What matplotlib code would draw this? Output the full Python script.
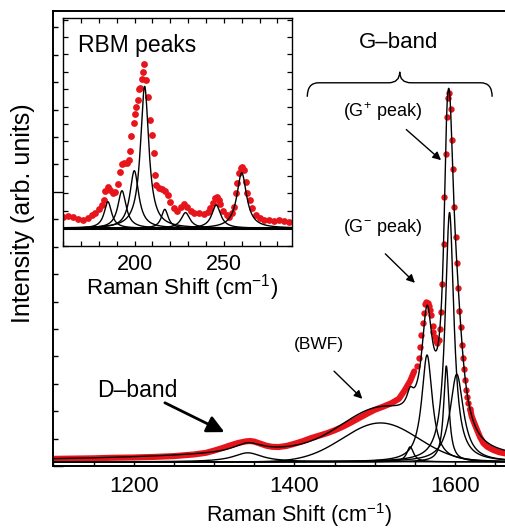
"""
Raman spectrum of SWNT sample with Lorentzian fit components, RBM inset.
"""
# ====================================================== Imports ===================================================== #

import matplotlib
matplotlib.use("Agg")
import matplotlib.pyplot as plt
import numpy as np
from matplotlib.path import Path
from matplotlib.patches import PathPatch
from matplotlib.ticker import MultipleLocator

plt.rcParams['font.family'] = ['Liberation Sans', 'DejaVu Sans']
plt.rcParams['mathtext.default'] = 'regular'

# ===================================================== Variables ==================================================== #

RED = '#e8141b'

# measured spectrum, D / G region (dense part -> drawn as a band)
band_shift = [1100, 1125, 1150, 1175, 1200, 1225, 1250, 1275, 1290, 1300, 1310, 1320, 1330, 1340, 1345, 1350,
              1357, 1365, 1372, 1380, 1390, 1400, 1410, 1420, 1430, 1440, 1450, 1460, 1470, 1480, 1490, 1500,
              1510, 1520, 1530, 1537, 1544, 1549]
band_int = [0.26, 0.27, 0.28, 0.30, 0.31, 0.33, 0.36, 0.42, 0.48, 0.56, 0.65, 0.75, 0.84, 0.90, 0.91, 0.89,
            0.82, 0.74, 0.70, 0.69, 0.73, 0.81, 0.90, 1.01, 1.10, 1.19, 1.30, 1.43, 1.58, 1.74, 1.90, 2.05,
            2.16, 2.28, 2.45, 2.75, 3.10, 3.45]

# measured spectrum, G peaks (single points)
peak_shift = [1552.4, 1554.4, 1555.7, 1557.8, 1559.4, 1560.6, 1562.7, 1564.2, 1565.6, 1567.0, 1568.5, 1570.2,
              1571.8, 1573.0, 1574.3, 1575.8, 1577.6, 1579.3, 1581.0, 1582.2, 1584.2, 1585.5, 1586.7, 1588.4,
              1590.1, 1590.9, 1592.5, 1595.0, 1596.6, 1597.9, 1599.1, 1600.9, 1602.1, 1603.4, 1605.0, 1606.8,
              1608.3, 1609.6, 1611.2, 1612.4, 1613.7, 1615.3, 1616.5, 1618.6]
peak_int = [3.65, 3.93, 4.35, 4.78, 5.21, 5.57, 5.91, 6.00, 5.96, 5.85, 5.70, 5.51,
            5.11, 4.90, 4.72, 4.55, 4.50, 4.60, 5.00, 5.60, 6.64, 8.09, 9.83, 11.39,
            12.74, 13.42, 13.60, 13.03, 11.90, 10.84, 9.45, 8.37, 7.42, 6.49, 5.67, 5.08,
            4.42, 3.93, 3.53, 3.14, 2.77, 2.51, 2.29, 2.07]

# measured spectrum, high-frequency tail (band)
tail_shift = [1618.6, 1620.7, 1624, 1627.3, 1631, 1635.2, 1640, 1647.6, 1655, 1662]
tail_int = [2.07, 1.80, 1.55, 1.31, 1.05, 0.83, 0.70, 0.58, 0.50, 0.46]

# fitted Lorentzian components: D, small, G-, G+ shoulder, G+, G+ high side
comp_center = [1342, 1544, 1565, 1589, 1593, 1602]
comp_hwhm = [22, 5, 8, 4, 6.5, 10]
comp_height = [0.33, 0.55, 3.9, 3.5, 9.1, 3.2]
# BWF component and background
bwf_center = 1507
bwf_sigma = 47
bwf_height = 1.42
bg_center = 1450
bg_hwhm = 200
bg_height = 0.45
base_level = 0.15

# RBM inset
rbm_shift = [160.1, 162.9, 165.7, 168.5, 171.3, 173.6, 176.0, 177.9, 179.8, 181.6, 182.6, 183.5, 184.8, 186.3,
             187.8, 189.1, 190.6, 191.9, 192.9, 194.2, 195.7, 196.6, 197.2, 197.9, 199.4, 200.4, 200.9, 201.7,
             202.2, 203.2, 204.1, 204.5, 205.4, 206.6, 207.5, 208.8, 209.7, 210.7, 211.2, 212.2, 213.5, 215.4,
             217.2, 218.5, 220.0, 221.9, 223.8, 225.7, 227.5, 229.4, 231.3, 233.5, 235.9, 238.8, 241.0, 242.5,
             244.0, 245.3, 246.3, 247.2, 248.1, 249.6, 251.5, 252.8, 254.7, 255.6, 256.6, 257.5, 258.4, 259.4,
             260.3, 261.2, 262.2, 263.1, 264.4, 265.9, 267.8, 270.2, 272.5, 275.3, 278.1, 280.9, 283.7, 286.5]
rbm_int = [0.67, 0.71, 0.63, 0.52, 0.48, 0.57, 0.76, 0.90, 1.09, 1.34, 1.63, 2.16, 2.39, 2.20,
           2.01, 2.10, 2.54, 3.25, 3.69, 3.73, 3.77, 3.92, 4.46, 5.30, 6.06, 6.56, 6.98, 7.36,
           8.03, 8.09, 8.60, 8.99, 9.43, 8.51, 7.55, 6.25, 5.35, 4.30, 3.06, 2.49, 2.29, 2.24,
           2.16, 1.91, 1.53, 1.15, 1.01, 1.20, 1.40, 1.24, 1.01, 0.90, 0.90, 0.82, 0.96, 1.15,
           1.47, 1.72, 1.82, 1.63, 1.40, 1.01, 0.76, 0.67, 0.86, 1.24, 2.05, 2.58, 3.15, 3.44,
           3.54, 3.35, 2.68, 2.05, 1.63, 1.15, 0.76, 0.57, 0.48, 0.48, 0.44, 0.48, 0.44, 0.38]
rbm_center = [185.0, 192.9, 199.8, 205.6, 216.9, 228.5, 245.7, 260.0]
rbm_hwhm = [2.5, 2.8, 3.0, 2.8, 2.3, 3.0, 3.0, 3.3]
rbm_height = [1.53, 2.16, 3.31, 8.16, 1.09, 0.90, 1.34, 3.19]


# ===================================================== Functions ==================================================== #


def lorentz(x, x0, hw, h):
    return h * hw ** 2 / ((x - x0) ** 2 + hw ** 2)


def brace(ax, x0, x1, y_end, y_mid, y_tip, curl):
    xm = 0.5 * (x0 + x1)
    verts = [(x0, y_end), (x0, y_mid), (x0 + curl, y_mid),
             (xm - curl, y_mid),
             (xm, y_mid), (xm, y_tip),
             (xm, y_mid), (xm + curl, y_mid),
             (x1 - curl, y_mid),
             (x1, y_mid), (x1, y_end)]
    codes = [Path.MOVETO, Path.CURVE3, Path.CURVE3,
             Path.LINETO,
             Path.CURVE3, Path.CURVE3,
             Path.CURVE3, Path.CURVE3,
             Path.LINETO,
             Path.CURVE3, Path.CURVE3]
    ax.add_patch(PathPatch(Path(verts, codes), fc='none', ec='k', lw=1.0, clip_on=False))


# ======================================================= Main ======================================================= #


def main():
    fig = plt.figure(figsize=(5.05, 5.30), dpi=100)
    ax = fig.add_axes([0.1056, 0.1208, 0.8944, 0.8585])

    x = np.linspace(1100, 1662, 2000)
    comps = [lorentz(x, c, w, h) for c, w, h in zip(comp_center, comp_hwhm, comp_height)]
    comps.append(bwf_height * np.exp(-(x - bwf_center) ** 2 / (2 * bwf_sigma ** 2)))
    total = base_level + lorentz(x, bg_center, bg_hwhm, bg_height) + np.sum(comps, axis=0)

    ax.plot(band_shift, band_int, color=RED, lw=4.4, solid_capstyle='round', zorder=2)
    ax.plot(tail_shift, tail_int, color=RED, lw=4.4, solid_capstyle='round', zorder=2)
    ax.plot(peak_shift, peak_int, 'o', color=RED, ms=4.6, mec='none', zorder=2)
    for c in comps:
        ax.plot(x, base_level + c, color='k', lw=1.0, zorder=3)
    ax.plot(x, total, color='k', lw=1.0, zorder=4)

    ax.set_xlim(1100, 1662)
    ax.set_ylim(0, 16.6)
    ax.xaxis.set_major_locator(MultipleLocator(200))
    ax.xaxis.set_minor_locator(MultipleLocator(50))
    ax.yaxis.set_major_locator(MultipleLocator(10))
    ax.yaxis.set_minor_locator(MultipleLocator(1))
    ax.set_yticklabels([])
    ax.tick_params(which='both', direction='in', top=False, right=False, width=1.0, labelsize=16, pad=7)
    ax.tick_params(axis='x', which='both', length=3.5)
    ax.tick_params(axis='y', which='major', length=7)
    ax.tick_params(axis='y', which='minor', length=3.5)
    ax.spines['right'].set_visible(False)
    for s in ('left', 'top', 'bottom'):
        ax.spines[s].set_linewidth(1.4)

    fig.text(299 / 505, 1 - 515 / 530, 'Raman Shift (cm$^{-1}$)', ha='center', va='center', fontsize=15.5)
    fig.text(23 / 505, 1 - 213 / 530, 'Intensity (arb. units)', ha='center', va='center', rotation=90,
             fontsize=18)

    # annotations
    ax.text(1529, 15.44, 'G\u2013band', ha='center', va='center', fontsize=16)
    brace(ax, 1416, 1646, 13.47, 13.98, 14.38, 14)
    ax.text(1510, 12.92, '(G$^{+}$ peak)', ha='center', va='center', fontsize=13)
    ax.annotate('', xy=(1585, 11.09), xytext=(1536.6, 12.34),
                arrowprops=dict(arrowstyle='-|>', color='k', lw=1.0, mutation_scale=12))
    ax.text(1510, 8.69, '(G$^{-}$ peak)', ha='center', va='center', fontsize=13)
    ax.annotate('', xy=(1552.4, 6.61), xytext=(1510.6, 7.81),
                arrowprops=dict(arrowstyle='-|>', color='k', lw=1.0, mutation_scale=12))
    ax.text(1430, 4.45, '(BWF)', ha='center', va='center', fontsize=12.5)
    ax.annotate('', xy=(1487, 2.38), xytext=(1446.8, 3.53),
                arrowprops=dict(arrowstyle='-|>', color='k', lw=1.0, mutation_scale=12))
    ax.text(1205, 2.77, 'D\u2013band', ha='center', va='center', fontsize=16.5)
    ax.annotate('', xy=(1316, 1.19), xytext=(1235.7, 2.35),
                arrowprops=dict(arrowstyle='-|>', color='k', lw=2.0, mutation_scale=26))

    # inset: RBM peaks
    axi = fig.add_axes([0.1253, 0.5358, 0.4523, 0.4296])
    xi = np.linspace(160, 288, 1200)
    axi.plot(rbm_shift, rbm_int, 'o', color=RED, ms=4.9, mec='none', zorder=2)
    for c, w, h in zip(rbm_center, rbm_hwhm, rbm_height):
        axi.plot(xi, lorentz(xi, c, w, h), color='k', lw=1.0, zorder=3)
    axi.axhline(0, color='k', lw=2.2, zorder=3)
    axi.set_xlim(160, 288)
    axi.set_ylim(-1.02, 12.07)
    axi.xaxis.set_major_locator(MultipleLocator(50))
    axi.xaxis.set_minor_locator(MultipleLocator(10))
    axi.yaxis.set_major_locator(MultipleLocator(1))
    axi.set_yticklabels([])
    axi.tick_params(which='both', direction='in', top=True, right=True, length=3.5, width=0.9,
                    labelsize=15.5, pad=5.5)
    for s in axi.spines.values():
        s.set_linewidth(1.0)
    axi.text(0.065, 0.93, 'RBM peaks', transform=axi.transAxes, ha='left', va='top', fontsize=16.5)
    fig.text(181.7 / 505, 1 - 288 / 530, 'Raman Shift (cm$^{-1}$)', ha='center', va='center', fontsize=16)

    fig.savefig('out.png', dpi=100)


# ==================================================================================================================== #


if __name__ == '__main__':
    main()
